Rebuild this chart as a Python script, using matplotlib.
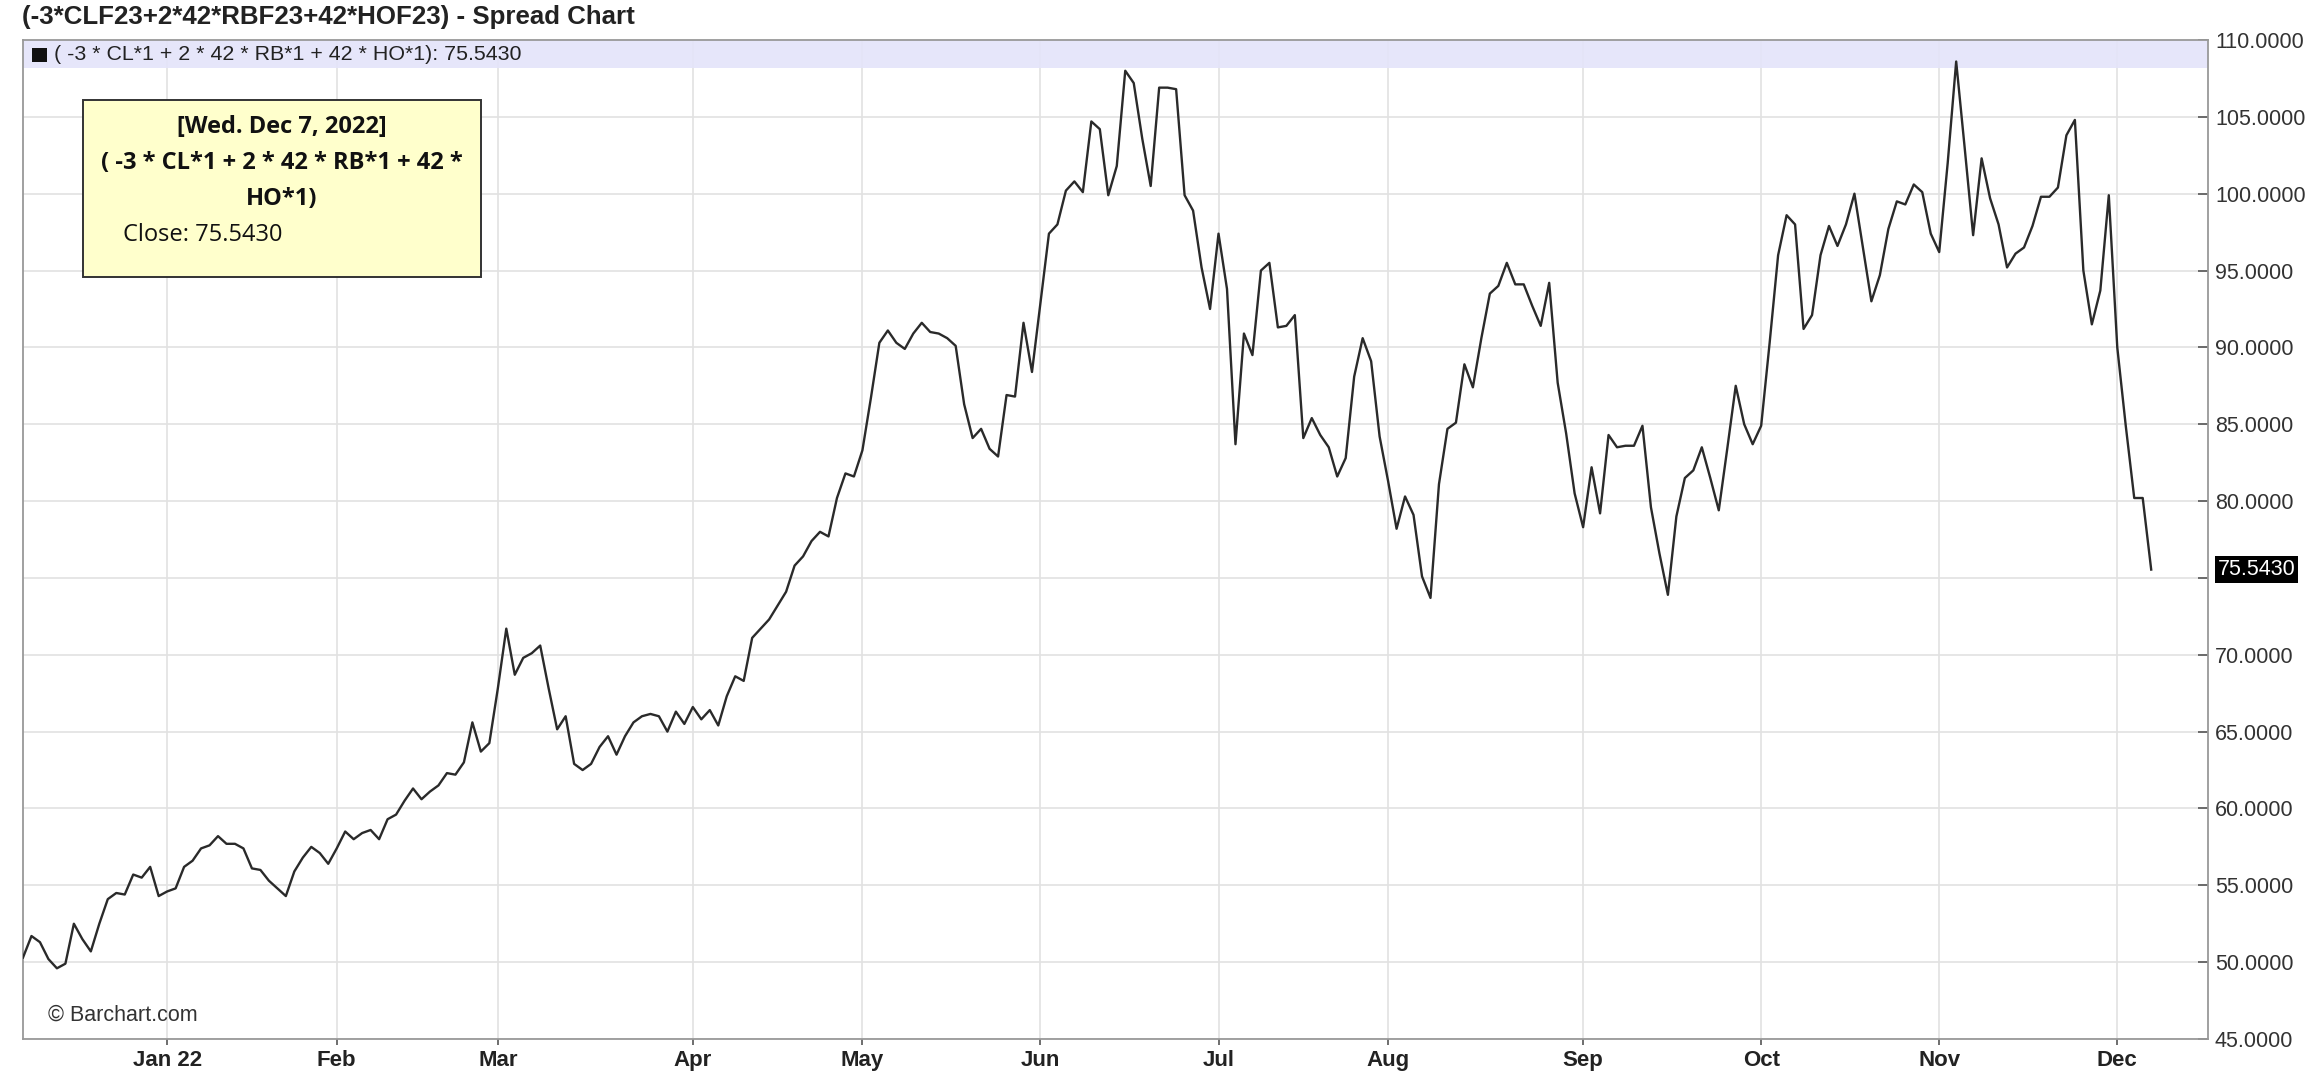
import matplotlib
matplotlib.use("Agg")
import matplotlib.pyplot as plt
from matplotlib.patches import Rectangle
import numpy as np
import pandas as pd

plt.rcParams['font.family'] = ['Liberation Sans', 'DejaVu Sans']

# trading days shown on the chart (NYSE calendar)
holidays = ["2021-12-24", "2022-01-17", "2022-02-21", "2022-04-15", "2022-05-30",
            "2022-06-20", "2022-07-04", "2022-09-05", "2022-11-24"]
dates = pd.bdate_range("2021-12-08", "2022-12-07", freq="C", holidays=holidays)

# daily close of the spread
close_dec21 = [50.3, 51.7, 51.3, 50.2, 49.6, 49.9, 52.5, 51.5, 50.7, 52.5,
               54.1, 54.5, 54.4, 55.7, 55.5, 56.2, 54.3]
close_jan = [54.6, 54.8, 56.2, 56.6, 57.4, 57.6, 58.2, 57.7, 57.7, 57.4,
             56.1, 56.0, 55.3, 54.8, 54.3, 55.9, 56.8, 57.5, 57.1, 56.4]
close_feb = [57.4, 58.5, 58.0, 58.4, 58.6, 58.0, 59.3, 59.6, 60.5, 61.3,
             60.6, 61.1, 61.5, 62.3, 62.2, 63.0, 65.6, 63.7, 64.25]
close_mar = [67.8, 71.7, 68.7, 69.8, 70.1, 70.6, 67.8, 65.15, 66.0, 62.9,
             62.5, 62.9, 64.0, 64.7, 63.5, 64.7, 65.6, 66.0, 66.15, 66.0,
             65.0, 66.3, 65.5]
close_apr = [66.6, 65.8, 66.4, 65.4, 67.3, 68.6, 68.3, 71.1, 71.7, 72.3,
             73.2, 74.1, 75.8, 76.4, 77.4, 78.0, 77.7, 80.2, 81.8, 81.6]
close_may = [83.3, 86.7, 90.3, 91.1, 90.3, 89.9, 90.9, 91.6, 91.0, 90.9,
             90.6, 90.1, 86.3, 84.1, 84.7, 83.4, 82.9, 86.9, 86.8, 91.6, 88.4]
close_jun = [92.9, 97.4, 98.0, 100.2, 100.8, 100.1, 104.7, 104.2, 99.9, 101.8,
             108.0, 107.2, 103.6, 100.5, 106.9, 106.9, 106.8, 99.9, 98.9, 95.2, 92.5]
close_jul = [97.4, 93.8, 83.7, 90.9, 89.5, 95.0, 95.5, 91.3, 91.4, 92.1,
             84.1, 85.4, 84.3, 83.5, 81.6, 82.8, 88.1, 90.6, 89.1, 84.2]
close_aug = [81.3, 78.2, 80.3, 79.1, 75.1, 73.7, 81.1, 84.7, 85.1, 88.9,
             87.4, 90.6, 93.5, 94.0, 95.5, 94.1, 94.1, 92.7, 91.4, 94.2,
             87.7, 84.4, 80.5]
close_sep = [78.3, 82.2, 79.2, 84.3, 83.5, 83.6, 83.6, 84.9, 79.6, 76.6,
             73.9, 79.0, 81.5, 82.0, 83.5, 81.5, 79.4, 83.4, 87.5, 85.0, 83.7]
close_oct = [84.9, 90.3, 96.0, 98.6, 98.0, 91.2, 92.1, 96.0, 97.9, 96.6,
             98.0, 100.0, 96.5, 93.0, 94.7, 97.7, 99.5, 99.3, 100.6, 100.1, 97.4]
close_nov = [96.2, 102.0, 108.6, 103.0, 97.3, 102.3, 99.7, 98.0, 95.2, 96.1,
             96.5, 97.9, 99.8, 99.8, 100.4, 103.8, 104.8, 95.0, 91.5, 93.7, 99.9]
close_dec22 = [90.0, 84.9, 80.2, 80.2, 75.543]

close = (close_dec21 + close_jan + close_feb + close_mar + close_apr + close_may
         + close_jun + close_jul + close_aug + close_sep + close_oct + close_nov
         + close_dec22)
last_close = close[-1]

yticks = np.arange(45, 111, 5)
title = "(-3*CLF23+2*42*RBF23+42*HOF23) - Spread Chart"
legend_label = "( -3 * CL*1 + 2 * 42 * RB*1 + 42 * HO*1)"
tip_lines = ["[Wed. Dec 7, 2022]", "( -3 * CL*1 + 2 * 42 * RB*1 + 42 *", "HO*1)"]

W, H = 2316, 1086
fig = plt.figure(figsize=(W / 100, H / 100), dpi=100)
ax = fig.add_axes([23 / W, 47 / H, 2185 / W, 999 / H])

x = np.arange(len(close))
ax.plot(x, close, color='#2a2a2a', lw=1.7, zorder=3)

# month starts -> ticks
months = dates.to_period('M')
starts = [i for i in range(1, len(dates)) if months[i] != months[i - 1]]
labels = [dates[i].strftime('%b') for i in starts]
labels[0] = dates[starts[0]].strftime('%b %y')

# the last-value box hides the price label it sits on
ylabels = ["" if abs(v - last_close) < 1.5 else f"{v:.4f}" for v in yticks]

ax.set_xlim(0, len(close) - 1 + 6.7)
ax.set_ylim(45, 110)
ax.set_xticks(starts, labels, fontweight='bold')
ax.set_yticks(yticks, ylabels)
ax.yaxis.tick_right()
ax.tick_params(axis='y', direction='in', length=7, width=1.2, color='#555555',
               labelcolor='#333333', labelsize=15.5, pad=5)
ax.tick_params(axis='x', direction='out', length=4.5, width=1.2, color='#555555',
               labelcolor='#222222', labelsize=16, pad=3.5)
ax.grid(True, color='#e2e2e2', lw=1.2)
ax.set_axisbelow(True)
for s in ax.spines.values():
    s.set_color('#999999')
    s.set_linewidth(1.3)

# legend band at the top of the plot
band_h = 28 / 999
ax.add_patch(Rectangle((0, 1 - band_h), 1, band_h, transform=ax.transAxes,
                       facecolor='#e4e4fa', edgecolor='none', alpha=0.9, zorder=1))
fig.add_artist(Rectangle((32 / W, 1 - 62 / H), 15 / W, 14 / H, transform=fig.transFigure,
                         facecolor='#111111', edgecolor='none', zorder=5))
fig.text(54 / W, 1 - 55 / H, f"{legend_label}: {last_close:.4f}",
         fontsize=15.4, va='center', color='#222222')

# last value marker on the price axis
ax.annotate(f"{last_close:.4f}", xy=(1, last_close), xycoords=('axes fraction', 'data'),
            xytext=(7, 0), textcoords='offset points', ha='left', va='center',
            fontsize=15.5, color='white', annotation_clip=False, zorder=6,
            bbox=dict(boxstyle='square,pad=0.12', facecolor='black', edgecolor='none'))

fig.text(22 / W, 1 - 17 / H, title, fontsize=18.6, fontweight='bold',
         va='center', color='#222222')
fig.text(48 / W, 1 - 1015 / H, "\u00a9 Barchart.com", fontsize=15.5,
         va='center', color='#333333')

# tooltip box
fig.add_artist(Rectangle((83 / W, 1 - 277 / H), 398 / W, 177 / H, transform=fig.transFigure,
                         facecolor='#ffffcc', edgecolor='#333333', lw=1.4, zorder=10))
for k, line in enumerate(tip_lines):
    fig.text(282 / W, 1 - (127 + 36 * k) / H, line, ha='center', va='center',
             fontfamily='Open Sans', fontweight='bold', fontsize=17, color='#111111', zorder=11)
fig.text(123 / W, 1 - 235 / H, f"Close: {last_close:.4f}", ha='left', va='center',
         fontfamily='Open Sans', fontsize=17, color='#111111', zorder=11)

fig.savefig('out.png', dpi=100)
